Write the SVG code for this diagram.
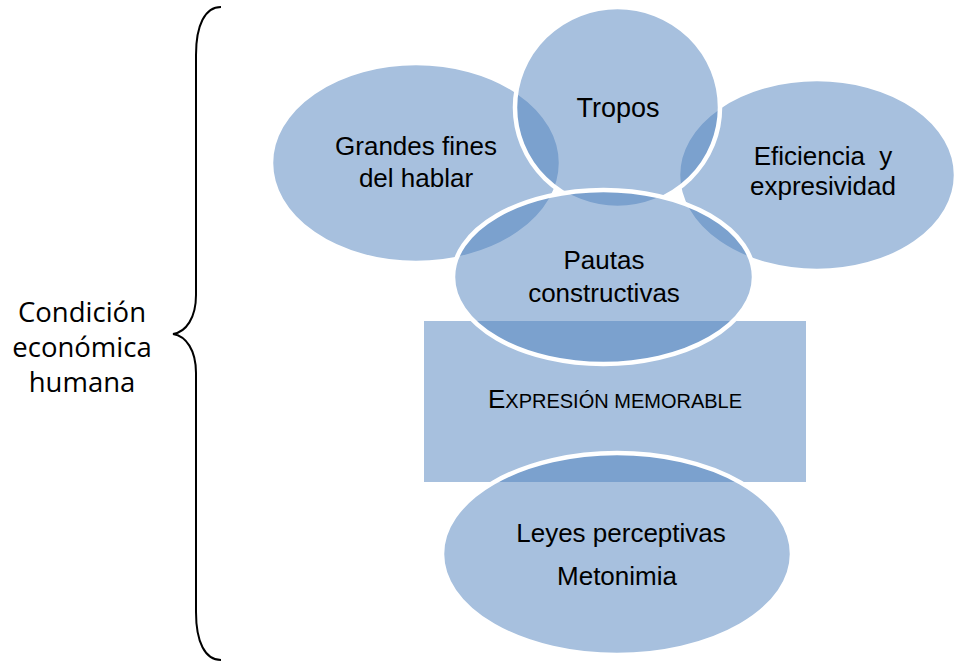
<svg xmlns="http://www.w3.org/2000/svg" width="955" height="661" viewBox="0 0 955 661">
  <style>
    .shape { fill: #4F81BD; fill-opacity: 0.5; stroke: #FFFFFF; stroke-width: 4.5; }
    .rect { fill: #4F81BD; fill-opacity: 0.5; stroke: none; }
    .lbl { font-family: "Liberation Sans", Arial, sans-serif; font-size: 26px; fill: #000000; text-anchor: middle; }
    .side { font-family: "Open Sans", "DejaVu Sans", sans-serif; font-size: 27.5px; fill: #000000; text-anchor: middle; }
    .brace { fill: none; stroke: #000000; stroke-width: 2; }
  </style>
  <rect width="955" height="661" fill="#FFFFFF"/>

  <g id="condicion">
    <text class="side" x="82" y="322">Condición</text>
    <text class="side" x="82" y="357">económica</text>
    <text class="side" x="82" y="392">humana</text>
  </g>

  <g id="connectors">
    <path class="brace" d="M221,7 C205,7 196,25 196,55 L196,295 C196,318 186,332 173,334 C186,336 196,350 196,373 L196,612 C196,642 205,660 221,660"/>
  </g>

  <g id="grandes">
    <ellipse class="shape" cx="416" cy="163" rx="145" ry="100"/>
    <text class="lbl" x="416" y="155">Grandes fines</text>
    <text class="lbl" x="416" y="187">del hablar</text>
  </g>

  <g id="eficiencia">
    <ellipse class="shape" cx="817" cy="175" rx="139" ry="96"/>
    <text class="lbl" x="823" y="165" xml:space="preserve">Eficiencia  y</text>
    <text class="lbl" x="823" y="195">expresividad</text>
  </g>

  <g id="tropos">
    <ellipse class="shape" cx="617.5" cy="107.5" rx="102.5" ry="100.5"/>
    <text class="lbl" x="618" y="117" style="font-size:27px">Tropos</text>
  </g>

  <g id="expresion">
    <rect class="rect" x="424" y="321" width="382" height="161"/>
    <text class="lbl" x="615" y="408"><tspan style="font-size:26px">E</tspan><tspan style="font-size:20px">XPRESIÓN MEMORABLE</tspan></text>
  </g>

  <g id="pautas">
    <ellipse class="shape" cx="603.5" cy="277" rx="150.5" ry="87"/>
    <text class="lbl" x="604" y="269">Pautas</text>
    <text class="lbl" x="604" y="302">constructivas</text>
  </g>

  <g id="leyes">
    <ellipse class="shape" cx="617" cy="554" rx="175" ry="101"/>
    <text class="lbl" x="621" y="542">Leyes perceptivas</text>
    <text class="lbl" x="617" y="585">Metonimia</text>
  </g>
</svg>
